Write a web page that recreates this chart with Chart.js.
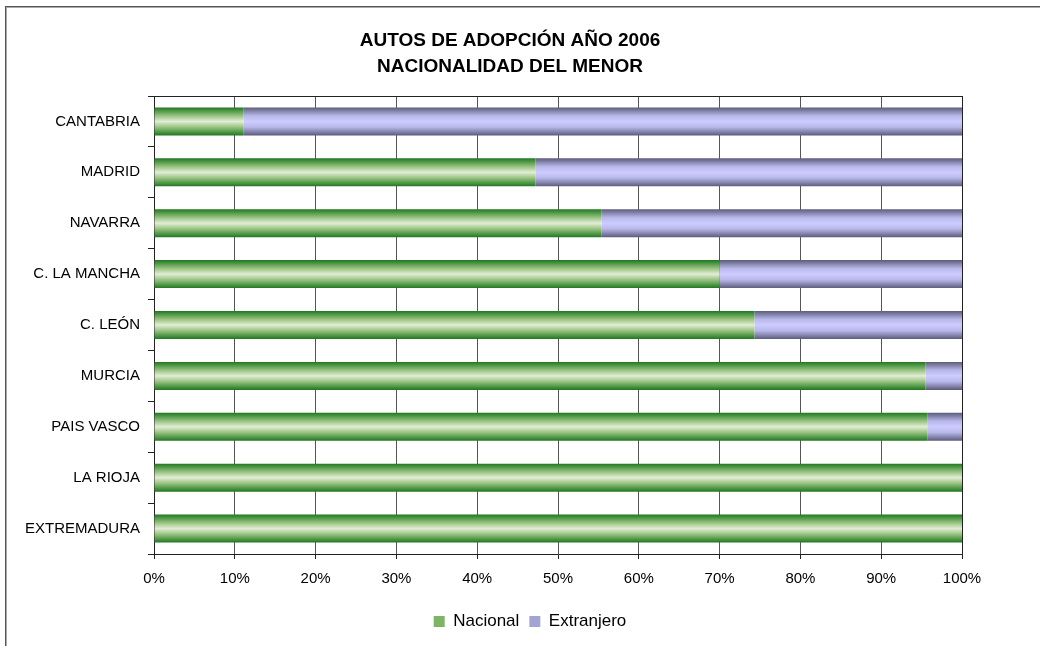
<!DOCTYPE html>
<html>
<head>
<meta charset="utf-8">
<script src="https://cdn.jsdelivr.net/npm/chart.js@4/dist/chart.umd.min.js"></script>
<style>
  html, body { margin: 0; padding: 0; background: #fff; }
  #wrap { position: relative; width: 1040px; height: 646px; overflow: hidden; }
  #frame {
    position: absolute; left: 5px; top: 6px; width: 1200px; height: 800px;
    border-left: 1px solid #555; border-top: 1px solid #555;
    box-shadow: inset 1px 1px 0 #aaa;
  }
  #chart { position: absolute; left: 0; top: 0; }
</style>
</head>
<body>
<div id="wrap">
  <div id="frame"></div>
  <canvas id="chart" width="1040" height="646"></canvas>
</div>
<script>
// regions, top to bottom
const regions = ['CANTABRIA', 'MADRID', 'NAVARRA', 'C. LA MANCHA', 'C. LEÓN',
                 'MURCIA', 'PAIS VASCO', 'LA RIOJA', 'EXTREMADURA'];
// % of adoption cases by nationality of the child
const nacional   = [11.1, 47.2, 55.4, 70.0, 74.3, 95.5, 95.7, 100, 100];
const extranjero = [88.9, 52.8, 44.6, 30.0, 25.7, 4.5, 4.3, 0, 0];

const titleLines = ['AUTOS DE ADOPCIÓN AÑO 2006', 'NACIONALIDAD DEL MENOR'];
const xTicks = [0, 10, 20, 30, 40, 50, 60, 70, 80, 90, 100];

const BAR_PCT = 0.55;
const FONT = '"Liberation Sans", Arial, sans-serif';

// vertical gradient across each bar (light in the middle)
function barFill(stops, flat) {
  return function (context) {
    const chart = context.chart;
    const yScale = chart.scales ? chart.scales.y : null;
    if (context.dataIndex === undefined || !chart.chartArea || !yScale) return flat;
    const center = yScale.getPixelForValue(context.dataIndex);
    const half = yScale.height / regions.length * BAR_PCT / 2;
    const g = chart.ctx.createLinearGradient(0, center - half, 0, center + half);
    stops.forEach(s => g.addColorStop(s[0], s[1]));
    return g;
  };
}

const greenStops = [[0, '#1f781f'], [0.3, '#99c482'], [0.5, '#e2edd6'], [0.7, '#99c482'], [1, '#1f781f']];
const purpleStops = [[0, '#5c5c7c'], [0.3, '#b8b8ea'], [0.5, '#ccccff'], [0.7, '#b8b8ea'], [1, '#5c5c7c']];
const legendFills = ['#7db466', '#a4a4d4'];

// nudge the legend a little to the right like the original
const shiftLegend = {
  id: 'shiftLegend',
  afterLayout(chart) {
    if (chart.legend) { chart.legend.left += 20; chart.legend.right += 20; }
  }
};

const chart = new Chart(document.getElementById('chart').getContext('2d'), {
  type: 'bar',
  data: {
    labels: regions,
    datasets: [
      {
        label: 'Nacional',
        data: nacional,
        backgroundColor: barFill(greenStops, legendFills[0]),
        borderWidth: 0,
        barPercentage: BAR_PCT,
        categoryPercentage: 1.0
      },
      {
        label: 'Extranjero',
        data: extranjero,
        backgroundColor: barFill(purpleStops, legendFills[1]),
        borderWidth: 0,
        barPercentage: BAR_PCT,
        categoryPercentage: 1.0
      }
    ]
  },
  options: {
    indexAxis: 'y',
    responsive: false,
    animation: false,
    events: [],
    layout: { padding: { left: 0, right: 20, top: 0, bottom: 6 } },
    scales: {
      x: {
        stacked: true,
        min: 0,
        max: 100,
        afterBuildTicks: (s) => { s.ticks = xTicks.map(v => ({ value: v })); },
        afterFit: (s) => { s.height = 49; },
        ticks: {
          callback: (v) => v + '%',
          color: '#000',
          font: { family: FONT, size: 15 },
          padding: 11,
          maxRotation: 0
        },
        grid: {
          color: (c) => c.index === xTicks.length - 1 ? '#222' : '#555',
          tickColor: '#222',
          tickLength: 5,
          lineWidth: 1
        },
        border: { color: '#222', width: 1 }
      },
      y: {
        stacked: true,
        afterFit: (s) => { s.width = 154; },
        ticks: {
          color: '#000',
          font: { family: FONT, size: 15 },
          padding: 8
        },
        grid: {
          offset: true,
          color: (c) => c.index === 0 ? '#222' : 'rgba(0,0,0,0)',
          tickColor: '#222',
          tickLength: 6
        },
        border: { color: '#222', width: 1 }
      },
      yr: {
        type: 'linear',
        position: 'right',
        display: true,
        afterFit: (s) => { s.width = 58; },
        grid: { display: false },
        ticks: { display: false },
        border: { display: false }
      }
    },
    plugins: {
      title: {
        display: true,
        text: titleLines,
        color: '#000',
        font: { family: FONT, size: 19, weight: 'bold', lineHeight: '26px' },
        padding: { top: 28, bottom: 16 }
      },
      legend: {
        position: 'bottom',
        labels: {
          color: '#000',
          font: { family: FONT, size: 17 },
          boxWidth: 11,
          boxHeight: 11,
          padding: 10,
          generateLabels: (ch) => Chart.defaults.plugins.legend.labels.generateLabels(ch)
            .map((item, i) => Object.assign(item, {
              fillStyle: legendFills[i], strokeStyle: legendFills[i], lineWidth: 0
            }))
        }
      },
      tooltip: { enabled: false }
    }
  },
  plugins: [shiftLegend]
});
</script>
</body>
</html>
